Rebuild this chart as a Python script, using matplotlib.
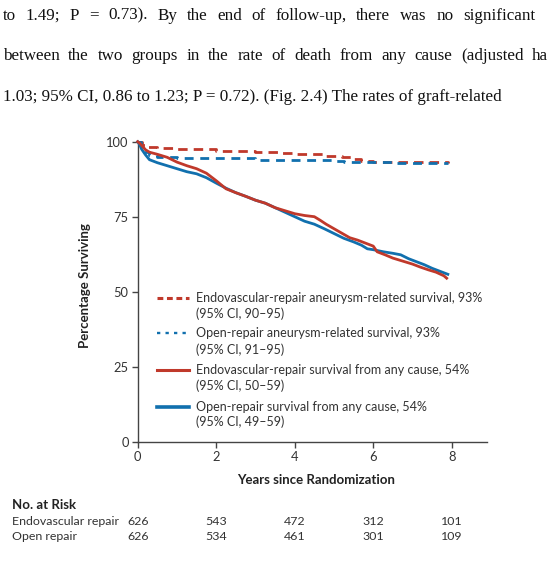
import matplotlib
matplotlib.use("Agg")
import matplotlib.pyplot as plt
from matplotlib import transforms
from matplotlib.lines import Line2D

# ---------------- data ----------------
endo_any_t = [0, 0.05, 0.1, 0.2, 0.3, 0.5, 0.75, 1.0, 1.25, 1.5, 1.75, 2.0, 2.25, 2.5,
              2.75, 3.0, 3.25, 3.5, 3.75, 4.0, 4.25, 4.5, 4.65, 4.8, 5.0, 5.2, 5.4, 5.6,
              5.8, 6.0, 6.1, 6.3, 6.5, 6.8, 7.0, 7.2, 7.4, 7.6, 7.8, 7.87]
endo_any_s = [100, 99.5, 98.8, 97.3, 96.5, 95.8, 94.8, 93.2, 92.0, 91.0, 89.5, 87.0, 84.3, 83.0,
              81.8, 80.5, 79.5, 78.0, 77.0, 76.0, 75.4, 75.0, 73.8, 72.5, 71.0, 69.5, 68.0, 67.2,
              66.2, 65.2, 63.3, 62.3, 61.2, 60.0, 59.2, 58.2, 57.3, 56.5, 55.3, 54.5]

open_any_t = [0, 0.05, 0.1, 0.2, 0.3, 0.5, 0.75, 1.0, 1.25, 1.5, 1.75, 2.0, 2.25, 2.5,
              2.75, 3.0, 3.25, 3.5, 3.75, 4.0, 4.25, 4.5, 4.75, 5.0, 5.25, 5.5, 5.7, 5.85,
              6.0, 6.26, 6.5, 6.7, 6.9, 7.1, 7.3, 7.5, 7.7, 7.9]
open_any_s = [100, 99.0, 97.5, 95.6, 94.0, 93.0, 92.0, 91.0, 90.0, 89.3, 88.0, 86.2, 84.5, 83.0,
              81.8, 80.5, 79.5, 78.0, 76.5, 75.0, 73.5, 72.5, 71.0, 69.4, 67.8, 66.6, 65.5, 64.3,
              64.0, 63.3, 62.8, 62.3, 61.0, 60.0, 59.0, 57.8, 56.8, 55.8]

endo_aaa_t = [0, 0.1, 0.2, 0.5, 1.0, 1.5, 2.0, 3.0, 3.6, 4.0, 4.75, 5.2, 5.5, 5.7, 6.0, 7.0, 7.9]
endo_aaa_s = [100, 99.0, 98.3, 98.0, 97.7, 97.4, 97.0, 96.5, 96.3, 96.0, 95.2, 94.8, 94.3, 93.6, 93.3, 93.2, 93.0]

open_aaa_t = [0, 0.08, 0.15, 0.3, 0.5, 1.0, 2.0, 3.0, 4.0, 5.0, 5.25, 6.5, 7.9]
open_aaa_s = [100, 98.0, 96.5, 95.5, 95.0, 94.7, 94.5, 94.0, 93.8, 93.6, 93.2, 93.0, 93.0]

legend_titles = ["Endovascular-repair aneurysm-related survival, 93%",
                 "Open-repair aneurysm-related survival, 93%",
                 "Endovascular-repair survival from any cause, 54%",
                 "Open-repair survival from any cause, 54%"]
legend_ci = ["(95% CI, 90\u201395)", "(95% CI, 91\u201395)",
             "(95% CI, 50\u201359)", "(95% CI, 49\u201359)"]

x_ticks = [0, 2, 4, 6, 8]
y_ticks = [0, 25, 50, 75, 100]
risk_groups = ["Endovascular repair", "Open repair"]
risk_endo = [626, 543, 472, 312, 101]
risk_open = [626, 534, 461, 301, 109]

body_lines = [
    "to 1.49; P = 0.73). By the end of follow-up, there was no significant",
    "between the two groups in the rate of death from any cause (adjusted ha",
    "1.03; 95% CI, 0.86 to 1.23; P = 0.72). (Fig. 2.4) The rates of graft-related",
]

# ---------------- styles ----------------
RED = "#C0392B"
BLUE = "#1170AE"
AX = "#444444"
TXT = "#333333"
SANS = ["Lato", "DejaVu Sans"]
SERIF = ["Liberation Serif", "DejaVu Serif"]

W, H = 549, 561
fig = plt.figure(figsize=(W / 100, H / 100), dpi=100)
renderer = fig.canvas.get_renderer()


def fx(px):
    return px / W


def fy(py):
    return 1 - py / H


def fit(t, target):
    w = t.get_window_extent(renderer).width
    t.set_fontsize(t.get_fontsize() * target / w)
    return t.get_fontsize()


# ---------------- body text ----------------
t3 = fig.text(fx(3), fy(101), body_lines[2], fontsize=12, family=SERIF,
              va="baseline", ha="left", color="#111111")
fs_body = fit(t3, 496)


def justify(line, ybase, x0, x1):
    words = line.split(" ")
    ts = [fig.text(0, fy(ybase), w, fontsize=fs_body, family=SERIF, va="baseline",
                   ha="left", color="#111111") for w in words]
    widths = [t.get_window_extent(renderer).width for t in ts]
    gap = (x1 - x0 - sum(widths)) / (len(words) - 1)
    x = x0
    for t, w in zip(ts, widths):
        t.set_x(fx(x))
        x += w + gap


justify(body_lines[0], 19.5, 3, 535)
justify(body_lines[1], 60, 3, 548)

# ---------------- axes ----------------
ax = fig.add_axes([fx(137.7), fy(441.7), (486.7 - 137.7) / W, (441.7 - 141.7) / H])
ax.set_xlim(0, 8.89)
ax.set_ylim(0, 100)
for s in ["top", "right"]:
    ax.spines[s].set_visible(False)
for s in ["left", "bottom"]:
    ax.spines[s].set_color(AX)
    ax.spines[s].set_linewidth(1.0)
ax.set_xticks(x_ticks)
ax.set_yticks(y_ticks)
ax.tick_params(direction="out", length=4, width=1, color=AX, labelcolor=TXT,
               labelsize=8.5, pad=2.5)
for lab in ax.get_xticklabels() + ax.get_yticklabels():
    lab.set_family(SANS)

ax.step(endo_aaa_t, endo_aaa_s, where="post", color=RED, lw=2.0,
        linestyle=(0, (3.4, 2.2)), clip_on=False, zorder=3)
ax.step(open_aaa_t, open_aaa_s, where="post", color=BLUE, lw=2.0,
        linestyle=(0, (3.2, 2.4)), clip_on=False, zorder=4)
ax.plot(open_any_t, open_any_s, color=BLUE, lw=2.0, clip_on=False, zorder=5)
ax.plot(endo_any_t, endo_any_s, color=RED, lw=2.0, clip_on=False, zorder=6)

# ---------------- legend (manual) ----------------
handle_styles = [dict(color=RED, lw=2.2, linestyle=(0, (1.9, 1.2))),
                 dict(color=BLUE, lw=1.7, linestyle=(0, (1.4, 2.2))),
                 dict(color=RED, lw=2.2, linestyle="-"),
                 dict(color=BLUE, lw=2.6, linestyle="-")]
rows_y = [(298.3, 313.8), (333.3, 350.0), (370.3, 386.0), (406.7, 422.0)]
fs_leg = None
for i, (title, ci) in enumerate(zip(legend_titles, legend_ci)):
    y1, y2 = rows_y[i]
    fig.add_artist(Line2D([fx(156.5), fx(188.5)], [fy(y1), fy(y1)],
                          transform=fig.transFigure, **handle_styles[i]))
    t = fig.text(fx(195.5), fy(y1), title, fontsize=8.5, family=SANS, va="center",
                 ha="left", color=TXT)
    if fs_leg is None:
        fs_leg = fit(t, 287)
    else:
        t.set_fontsize(fs_leg)
    fig.text(fx(195.5), fy(y2), ci, fontsize=fs_leg, family=SANS, va="center",
             ha="left", color=TXT)

for lab in ax.get_xticklabels() + ax.get_yticklabels():
    lab.set_fontsize(fs_leg * 1.03)

# ---------------- axis labels ----------------
yl = fig.text(fx(85), fy(285.6), "Percentage Surviving", rotation=90, family=SANS,
              fontweight="bold", fontsize=9, ha="center", va="center", color="#222222")
xl = fig.text(fx(316.5), fy(480), "Years since Randomization", family=SANS,
              fontweight="bold", fontsize=9, ha="center", va="center", color="#222222")
fs_lab = fit(xl, 159)
yl.set_fontsize(fs_lab)

# ---------------- number at risk ----------------
nr = fig.text(fx(11.7), fy(505), "No. at Risk", family=SANS, fontweight="bold",
              fontsize=fs_lab, ha="left", va="center", color="#222222")
g0 = fig.text(fx(11.7), fy(521.7), risk_groups[0], family=SANS, fontsize=9,
              ha="left", va="center", color=TXT)
fs_risk = fit(g0, 107.5)
fig.text(fx(11.7), fy(536.7), risk_groups[1], family=SANS, fontsize=fs_risk,
         ha="left", va="center", color=TXT)
blend = transforms.blended_transform_factory(ax.transData, fig.transFigure)
for xv, a, b in zip(x_ticks, risk_endo, risk_open):
    ax.text(xv, fy(521.7), str(a), transform=blend, family=SANS, fontsize=fs_risk,
            ha="center", va="center", color=TXT, clip_on=False)
    ax.text(xv, fy(536.7), str(b), transform=blend, family=SANS, fontsize=fs_risk,
            ha="center", va="center", color=TXT, clip_on=False)

fig.savefig("out.png", dpi=100)
